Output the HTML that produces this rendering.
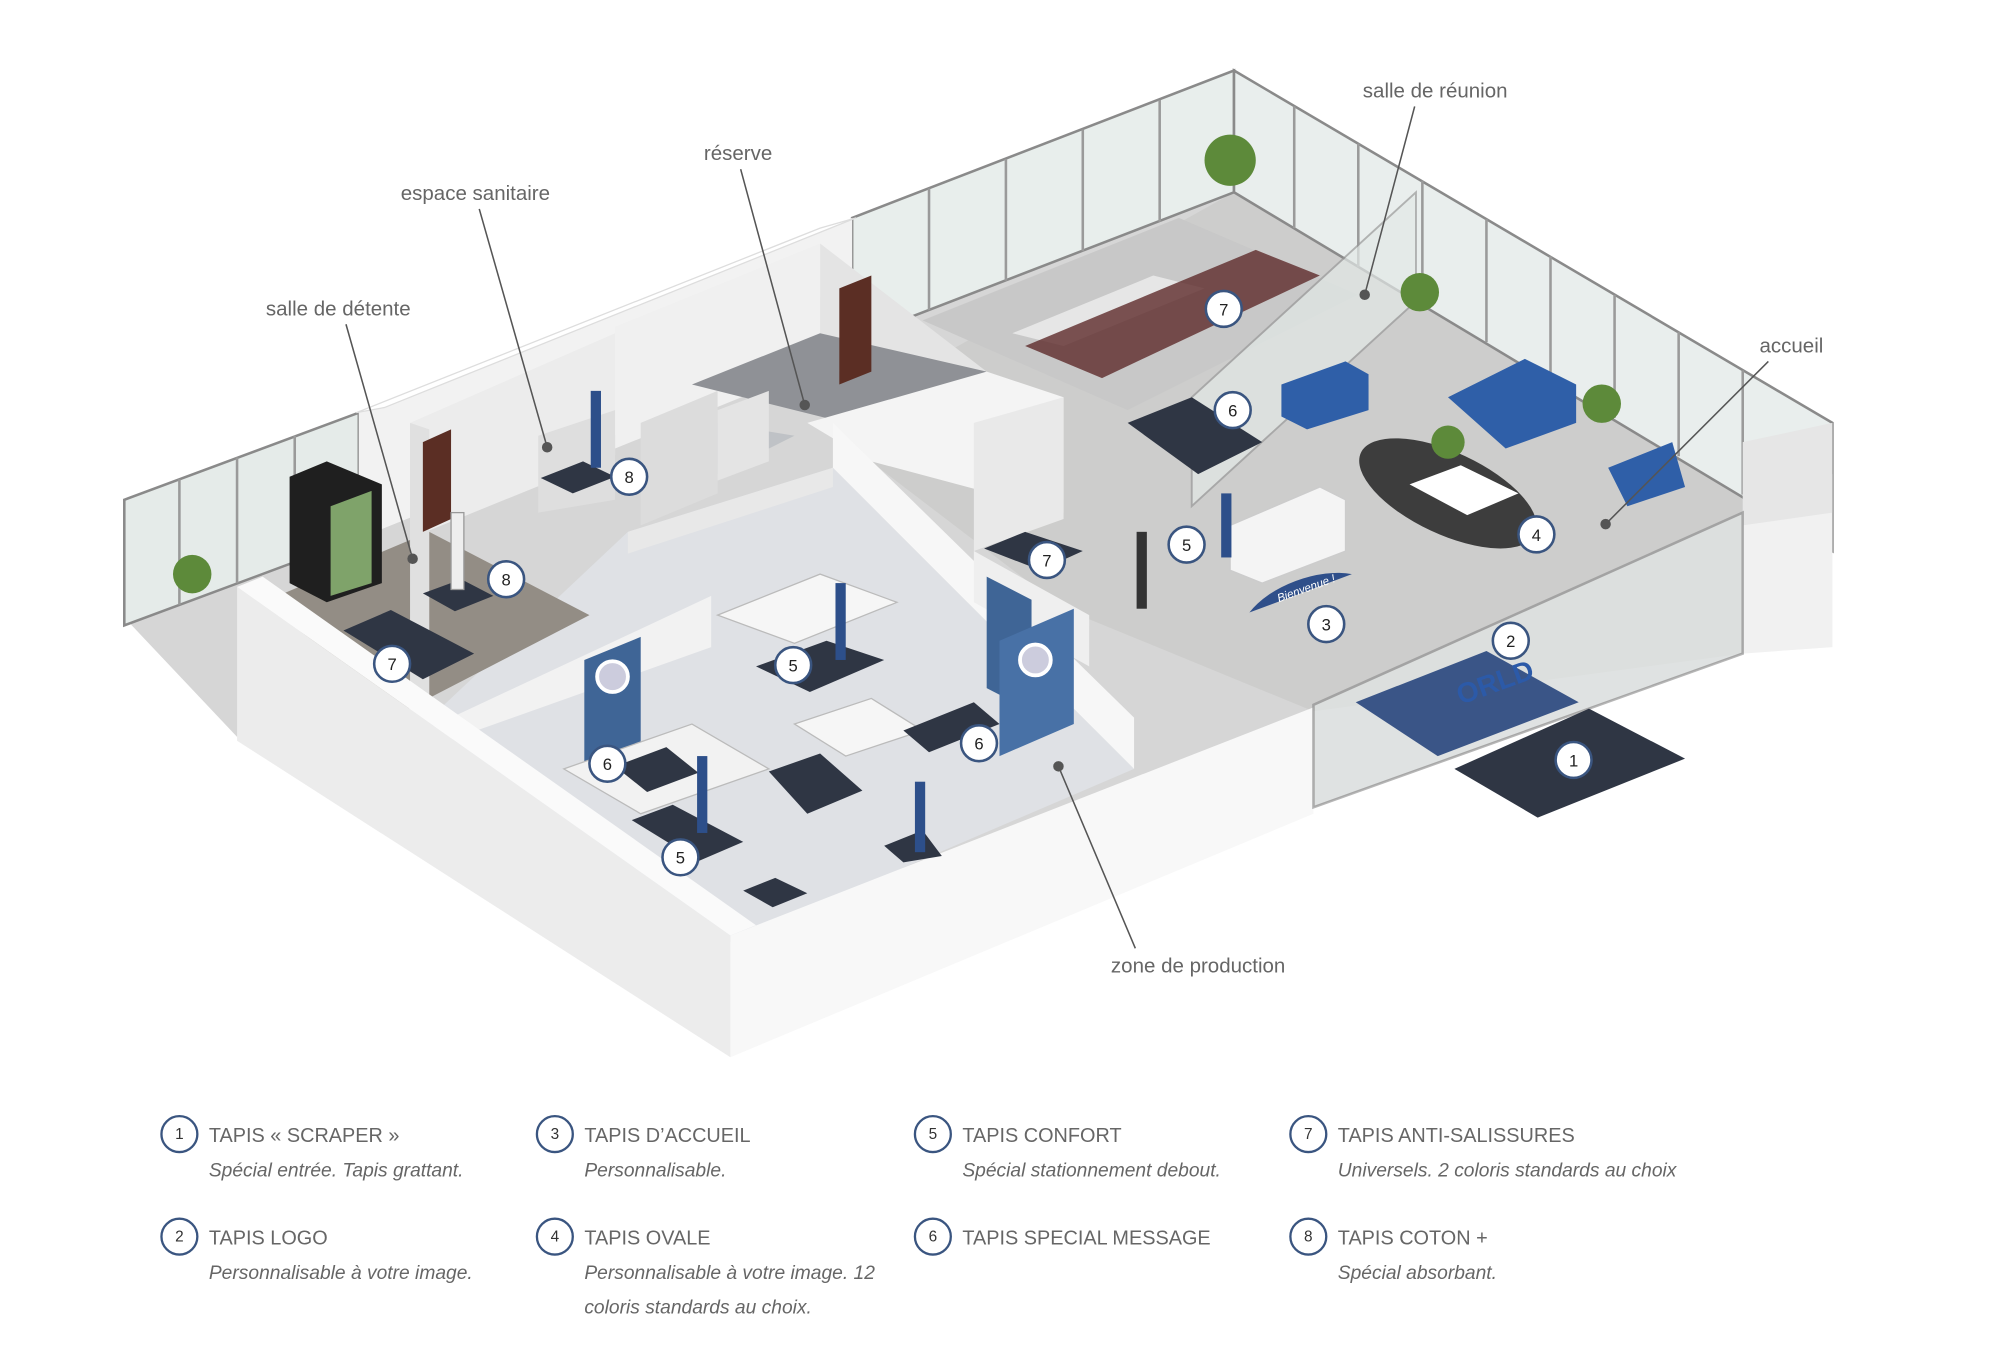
<!DOCTYPE html>
<html><head><meta charset="utf-8"><style>
html,body{margin:0;padding:0;background:#fff;}
svg{display:block;}
text{font-family:"Liberation Sans",sans-serif;}
</style></head><body>
<svg width="1999" height="1368" viewBox="0 0 1560 1067.5" xmlns="http://www.w3.org/2000/svg">
<rect width="1560" height="1067.5" fill="#fff"/>
<polygon points="100,485 280,420 665,265 963,150 1430,400 1360,510 1025,630 570,725 185,575" fill="#d6d6d6"/>
<polygon points="640,330 963,150 1430,400 1360,510 1025,555 830,475" fill="#cdcdcc"/>
<polygon points="320,575 490,415 650,365 885,600 570,735" fill="#dfe1e5"/>
<polygon points="205,470 335,415 460,480 315,555" fill="#938d85"/>
<polygon points="720,250 920,170 1060,230 880,320" fill="#c8c8c8"/>
<polygon points="97,390 280,322 280,420 97,488" fill="#e5ebe9" stroke="#8a8a8a" stroke-width="2"/>
<polygon points="665,170 963,55 963,150 665,265" fill="#e8eeec" stroke="#8a8a8a" stroke-width="2"/>
<polygon points="963,55 1430,330 1430,430 963,150" fill="#e9eeed" stroke="#8a8a8a" stroke-width="2"/>
<g stroke="#9a9a9a" stroke-width="2">
<line x1="140" y1="374" x2="140" y2="472"/><line x1="185" y1="357" x2="185" y2="455"/><line x1="230" y1="340" x2="230" y2="438"/>
<line x1="725" y1="147" x2="725" y2="242"/><line x1="785" y1="124" x2="785" y2="219"/><line x1="845" y1="101" x2="845" y2="196"/><line x1="905" y1="78" x2="905" y2="173"/>
<line x1="1010" y1="83" x2="1010" y2="178"/><line x1="1060" y1="112" x2="1060" y2="208"/><line x1="1110" y1="141" x2="1110" y2="237"/><line x1="1160" y1="171" x2="1160" y2="267"/><line x1="1210" y1="200" x2="1210" y2="296"/><line x1="1260" y1="230" x2="1260" y2="326"/><line x1="1310" y1="259" x2="1310" y2="356"/><line x1="1360" y1="289" x2="1360" y2="386"/>
</g>
<polygon points="930,310 1105,150 1105,235 930,395" fill="#e3e9e7" opacity="0.7" stroke="#999" stroke-width="1.5"/>
<polygon points="280,322 665,170 665,265 280,420" fill="#f2f2f2"/>
<polygon points="278,322 640,178 668,170 300,318" fill="#fff" stroke="#ddd"/>
<polygon points="320,330 480,260 480,355 320,420" fill="#ececec"/>
<polygon points="480,255 640,190 640,285 480,350" fill="#f0f0f0"/>
<polygon points="640,190 770,290 770,340 640,285" fill="#e4e4e4"/>
<polygon points="540,300 640,260 770,290 660,330" fill="#8f9196"/>
<polygon points="630,330 770,290 830,310 830,400 680,360" fill="#f4f4f4"/>
<polygon points="760,330 830,310 830,405 760,430" fill="#e9e9e9"/>
<polygon points="490,365 560,330 620,340 560,370" fill="#bfc2c6"/>
<polygon points="500,330 560,305 560,385 500,410" fill="#dcdcdc"/>
<polygon points="560,320 600,305 600,360 560,375" fill="#e4e4e4"/>
<polygon points="420,340 480,320 480,390 420,400" fill="#dedede"/>
<polygon points="320,330 320,570 335,575 335,335" fill="#e0e0e0"/>
<polygon points="320,575 555,465 555,505 330,585" fill="#f2f2f2"/>
<polygon points="490,415 650,365 650,380 490,432" fill="#e8e8e8"/>
<polygon points="650,365 885,600 885,560 650,330" fill="#f7f7f7"/>
<polygon points="760,430 850,480 850,520 760,470" fill="#efefef"/>
<polygon points="330,345 352,335 352,405 330,415" fill="#5b2e24"/>
<polygon points="655,225 680,215 680,290 655,300" fill="#5b2e24"/>
<polygon points="456,515 500,497 500,585 456,603" fill="#3f6596"/>
<circle cx="478" cy="528" r="12" fill="#ccd" stroke="#fff" stroke-width="3"/>
<polygon points="770,450 805,468 805,555 770,537" fill="#3f6596"/>
<polygon points="780,500 838,475 838,565 780,590" fill="#4871a6"/>
<circle cx="808" cy="515" r="12" fill="#ccd" stroke="#fff" stroke-width="3"/>
<polygon points="226,372 255,360 298,378 298,455 255,470 226,455" fill="#1f1f1f"/>
<polygon points="258,395 290,383 290,455 258,465" fill="#7fa36a"/>
<polygon points="185,458 570,730 570,825 185,578" fill="#ececec"/>
<polygon points="185,458 205,450 590,722 570,730" fill="#fafafa"/>
<polygon points="570,730 1025,552 1025,635 570,825" fill="#f8f8f8"/>
<polygon points="1360,400 1430,370 1430,505 1360,510" fill="#f1f1f1"/>
<polygon points="1360,345 1430,330 1430,400 1360,410" fill="#e6e6e6"/>
<polygon points="1025,550 1360,400 1360,510 1025,630" fill="#e6ebea" opacity="0.6" stroke="#888" stroke-width="2"/>
<ellipse cx="1130" cy="385" rx="75" ry="32" transform="rotate(25 1130 385)" fill="#3d3d3d"/>
<polygon points="1100,378 1140,363 1185,385 1145,402" fill="#fff"/>
<polygon points="960,410 1030,380 1050,390 1050,430 985,455 960,445" fill="#f4f4f4" stroke="#ccc"/>
<polygon points="1000,300 1050,282 1068,292 1068,320 1020,335 1000,325" fill="#2f5fa8"/>
<polygon points="1130,310 1190,280 1230,300 1230,330 1175,350" fill="#2f5fa8"/>
<polygon points="1255,365 1305,345 1315,380 1270,395" fill="#2f5fa8"/>
<polygon points="790,260 900,215 940,225 830,270" fill="#e6e6e6"/>
<polygon points="800,270 980,195 1030,215 860,295" fill="#5e2a2a" opacity="0.8"/>
<polygon points="560,480 640,448 700,470 620,502" fill="#f6f6f6" stroke="#bbb"/>
<polygon points="620,565 680,545 720,570 660,590" fill="#f6f6f6" stroke="#bbb"/>
<polygon points="440,600 540,565 600,600 500,635" fill="#f2f2f2" stroke="#bbb"/>
<g fill="#2f3644">
<polygon points="268,492 305,476 370,510 330,530"/>
<polygon points="590,520 645,500 690,515 632,540"/>
<polygon points="600,602 640,588 673,617 630,635"/>
<polygon points="493,640 525,628 580,657 545,672"/>
<polygon points="580,695 605,685 630,697 603,708"/>
<polygon points="690,660 720,648 735,668 705,673"/>
<polygon points="768,428 800,415 845,430 812,445"/>
<polygon points="422,373 455,360 480,372 447,385"/>
<polygon points="330,463 360,452 385,465 355,477"/>
<polygon points="880,330 930,310 985,345 935,370"/>
<polygon points="705,570 760,548 780,565 725,587"/>
<polygon points="480,598 520,583 545,603 505,618"/>
<polygon points="1135,600 1240,553 1315,592 1200,638"/>
</g>
<polygon points="1058,548 1160,508 1232,548 1122,590" fill="#3a5587"/>
<text x="1140" y="550" font-size="22" font-weight="bold" fill="#2c5aa8" transform="rotate(-20 1140 550)">ORLD</text>
<path d="M975,478 A55,28 -20 0 1 1055,448 Z" fill="#2f4f8a"/>
<text x="998" y="470" font-size="9" fill="#fff" font-style="italic" transform="rotate(-20 998 470)">Bienvenue !</text>
<g fill="#5d8a3a"><circle cx="960" cy="125" r="20"/><circle cx="1108" cy="228" r="15"/><circle cx="1250" cy="315" r="15"/><circle cx="150" cy="448" r="15"/><circle cx="1130" cy="345" r="13"/></g>
<g fill="#2d4f8a"><rect x="461" y="305" width="8" height="60"/><rect x="652" y="455" width="8" height="60"/><rect x="544" y="590" width="8" height="60"/><rect x="714" y="610" width="8" height="55"/><rect x="887" y="415" width="8" height="60" fill="#333"/><rect x="953" y="385" width="8" height="50"/></g>
<rect x="352" y="400" width="10" height="60" fill="#eee" stroke="#999"/>
<g stroke="#555" stroke-width="1.2" fill="#555">
<line x1="1104" y1="83" x2="1065" y2="230"/><circle cx="1065" cy="230" r="3.5"/>
<line x1="578" y1="132" x2="628" y2="316"/><circle cx="628" cy="316" r="3.5"/>
<line x1="374" y1="163" x2="427" y2="349"/><circle cx="427" cy="349" r="3.5"/>
<line x1="270" y1="253" x2="322" y2="436"/><circle cx="322" cy="436" r="3.5"/>
<line x1="1380" y1="282" x2="1253" y2="409"/><circle cx="1253" cy="409" r="3.5"/>
<line x1="886" y1="740" x2="826" y2="598"/><circle cx="826" cy="598" r="3.5"/>
</g>
<g font-size="16" fill="#666" text-anchor="middle">
<text x="1120" y="76">salle de réunion</text>
<text x="576" y="125">réserve</text>
<text x="371" y="156">espace sanitaire</text>
<text x="264" y="246">salle de détente</text>
<text x="1398" y="275">accueil</text>
<text x="935" y="759">zone de production</text>
</g>
<g font-size="13" text-anchor="middle" fill="#222">
<g stroke="#3a5580" stroke-width="2" fill="#fff">
<circle cx="955" cy="241" r="14"/><circle cx="962" cy="320" r="14"/><circle cx="926" cy="425" r="14"/><circle cx="817" cy="437" r="14"/><circle cx="1199" cy="417" r="14"/><circle cx="1179" cy="500" r="14"/><circle cx="1035" cy="487" r="14"/><circle cx="1228" cy="593" r="14"/><circle cx="491" cy="372" r="14"/><circle cx="395" cy="452" r="14"/><circle cx="306" cy="518" r="14"/><circle cx="619" cy="519" r="14"/><circle cx="474" cy="596" r="14"/><circle cx="764" cy="580" r="14"/><circle cx="531" cy="669" r="14"/>
</g>
<text x="955" y="246">7</text><text x="962" y="325">6</text><text x="926" y="430">5</text><text x="817" y="442">7</text><text x="1199" y="422">4</text><text x="1179" y="505">2</text><text x="1035" y="492">3</text><text x="1228" y="598">1</text><text x="491" y="377">8</text><text x="395" y="457">8</text><text x="306" y="523">7</text><text x="619" y="524">5</text><text x="474" y="601">6</text><text x="764" y="585">6</text><text x="531" y="674">5</text>
</g>
<g stroke="#3a5580" stroke-width="1.8" fill="#fff">
<circle cx="140" cy="885" r="14"/><circle cx="433" cy="885" r="14"/><circle cx="728" cy="885" r="14"/><circle cx="1021" cy="885" r="14"/>
<circle cx="140" cy="965" r="14"/><circle cx="433" cy="965" r="14"/><circle cx="728" cy="965" r="14"/><circle cx="1021" cy="965" r="14"/>
</g>
<g font-size="12" fill="#333" text-anchor="middle">
<text x="140" y="889">1</text><text x="433" y="889">3</text><text x="728" y="889">5</text><text x="1021" y="889">7</text>
<text x="140" y="969">2</text><text x="433" y="969">4</text><text x="728" y="969">6</text><text x="1021" y="969">8</text>
</g>
<g font-size="15.5" fill="#666">
<text x="163" y="891">TAPIS « SCRAPER »</text><text x="456" y="891">TAPIS D’ACCUEIL</text><text x="751" y="891">TAPIS CONFORT</text><text x="1044" y="891">TAPIS ANTI-SALISSURES</text>
<text x="163" y="971">TAPIS LOGO</text><text x="456" y="971">TAPIS OVALE</text><text x="751" y="971">TAPIS SPECIAL MESSAGE</text><text x="1044" y="971">TAPIS COTON +</text>
</g>
<g font-size="15" fill="#666" font-style="italic">
<text x="163" y="918">Spécial entrée. Tapis grattant.</text><text x="456" y="918">Personnalisable.</text><text x="751" y="918">Spécial stationnement debout.</text><text x="1044" y="918">Universels. 2 coloris standards au choix</text>
<text x="163" y="998">Personnalisable à votre image.</text><text x="456" y="998">Personnalisable à votre image. 12</text><text x="456" y="1025">coloris standards au choix.</text><text x="1044" y="998">Spécial absorbant.</text>
</g>
</svg>
</body></html>
